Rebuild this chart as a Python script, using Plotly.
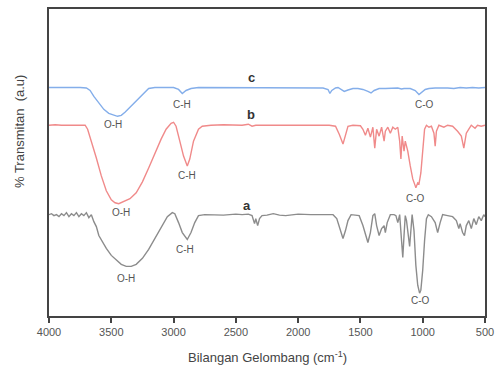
import plotly.graph_objects as go

def pv(py):
    # convert picture-read level to arbitrary transmittance units (0-100)
    return round((316 - py) * 100 / 309, 2)

# Spectrum c (wavenumber, level)
c_wn = [4000, 3900, 3850, 3800, 3750, 3700, 3670, 3640, 3600, 3560, 3520, 3480, 3450, 3420, 3390, 3350,
        3300, 3250, 3200, 3150, 3050, 3000, 2960, 2930, 2900, 2860, 2800, 2600, 2400, 2300, 2200, 2000,
        1800, 1760, 1745, 1730, 1700, 1680, 1660, 1630, 1600, 1560, 1520, 1480, 1440, 1415, 1390, 1350,
        1300, 1250, 1200, 1170, 1150, 1100, 1060, 1030, 1010, 980, 950, 900, 800, 750, 700, 650, 600, 550, 500]
c_lv = [86, 86, 85.5, 86, 86, 86.5, 89, 95, 102, 108, 112, 114, 115, 114, 111, 106,
        100, 93, 87, 86, 86, 86, 88, 92, 89, 87, 86, 86, 86, 86.5, 86, 86,
        86.5, 88, 92, 89, 86.5, 86, 88, 90, 88.5, 87, 87, 88, 90, 91.5, 89, 87,
        87, 87, 86.5, 87.5, 87, 87, 89, 93, 91, 88, 87, 86.5, 86.5, 87, 86, 86.5, 86, 86.5, 86]

# Spectrum b
b_wn = [4000, 3950, 3900, 3850, 3800, 3750, 3710, 3690, 3660, 3620, 3580, 3540, 3500, 3470, 3440, 3400,
        3350, 3300, 3250, 3200, 3150, 3100, 3060, 3020, 3000, 2980, 2950, 2920, 2890, 2870, 2840, 2800,
        2770, 2700, 2600, 2500, 2450, 2400, 2370, 2340, 2300, 2200, 2100, 2000, 1900, 1750, 1700, 1670,
        1640, 1620, 1600, 1560, 1500, 1480, 1460, 1440, 1420, 1400, 1385, 1370, 1350, 1330, 1310, 1300,
        1280, 1260, 1240, 1220, 1200, 1185, 1175, 1165, 1150, 1140, 1120, 1100, 1080, 1060, 1055, 1040,
        1030, 1015, 1000, 985, 970, 950, 930, 910, 900, 890, 870, 830, 800, 760, 720, 690, 670, 650,
        630, 610, 580, 560, 530, 500]
b_lv = [124, 123.5, 124, 124, 123.5, 124, 124, 128, 140, 157, 175, 190, 199, 202, 203, 201,
        198, 192, 181, 167, 152, 138, 128, 122, 121, 125, 140, 155, 165, 158, 140, 128,
        125, 124, 123.5, 123.5, 124, 123, 125, 124, 124, 124.5, 124, 124, 124, 124, 125, 133,
        143, 135, 125, 124, 124.5, 128, 134, 127, 136, 126, 147, 128, 135, 126, 140, 130,
        126, 132, 126, 128, 126, 140, 158, 135, 150, 140, 150, 165, 178, 185, 187, 182,
        183, 172, 150, 128, 124, 126, 125, 132, 145, 130, 124, 126, 124, 125, 130, 135, 147, 132,
        128, 124, 127, 124, 125, 124]

# Spectrum a
a_wn = [4000, 3980, 3960, 3940, 3920, 3900, 3880, 3860, 3840, 3820, 3800, 3780, 3760, 3740, 3720, 3700,
        3680, 3660, 3640, 3620, 3600, 3570, 3540, 3500, 3460, 3420, 3380, 3340, 3300, 3250, 3200, 3150,
        3100, 3050, 3010, 2990, 2960, 2930, 2890, 2860, 2830, 2800, 2750, 2700, 2600, 2500, 2450, 2400,
        2370, 2350, 2340, 2325, 2310, 2290, 2250, 2200, 2150, 2100, 2050, 2000, 1900, 1800, 1720, 1690,
        1660, 1640, 1620, 1600, 1575, 1550, 1510, 1480, 1450, 1440, 1420, 1400, 1385, 1370, 1350, 1330,
        1310, 1300, 1285, 1260, 1230, 1215, 1200, 1185, 1170, 1160, 1150, 1140, 1130, 1115, 1105, 1095,
        1085, 1070, 1055, 1040, 1025, 1015, 1000, 985, 970, 955, 930, 900, 880, 860, 840, 800,
        760, 730, 710, 700, 680, 665, 650, 630, 610, 590, 570, 550, 530, 510, 500]
a_lv = [214, 213, 215, 214, 216, 213, 215, 212, 216, 213, 215, 212, 216, 213, 215, 212,
        217, 214, 221, 226, 235, 242, 248, 255, 260, 264, 266, 266, 264, 258, 249, 238,
        226, 216, 212, 213, 222, 232, 239, 232, 222, 215, 214, 214, 214.5, 213.5, 214, 213.5,
        215, 223, 218, 225, 218, 215, 214.5, 213, 214.5, 215, 214, 213.5, 214, 214, 214, 218,
        230, 238, 230, 220, 214, 214.5, 215, 225, 238, 242, 232, 215, 213, 225, 235, 228,
        225, 232, 222, 214, 214, 215, 222, 214, 240, 257, 235, 215, 220, 240, 246, 230,
        214, 230, 265, 285, 293, 290, 270, 240, 218, 214, 216, 222, 232, 222, 214, 215,
        216, 220, 228, 223, 232, 235, 225, 220, 228, 218, 224, 216, 220, 214, 216]

series = [("a", a_wn, a_lv, "#8c8c8c"), ("b", b_wn, b_lv, "#f08a8a"), ("c", c_wn, c_lv, "#84aeea")]

# Annotations: (text, wavenumber, level, bold)
labels = [
    ("c", 2373, 76, True), ("b", 2381, 113, True), ("a", 2413, 205, True),
    ("O-H", 3490, 123, False), ("C-H", 2930, 103, False), ("C-O", 985, 103, False),
    ("O-H", 3420, 212, False), ("C-H", 2890, 175, False), ("C-O", 1055, 198, False),
    ("O-H", 3380, 278, False), ("C-H", 2910, 249, False), ("C-O", 1015, 300, False),
]

fig = go.Figure()
for name, wn, lv, col in series:
    fig.add_trace(go.Scatter(x=wn, y=[pv(v) for v in lv], mode="lines", name=name,
                             line=dict(color=col, width=1.4), showlegend=False))

for text, x, lvl, bold in labels:
    fig.add_annotation(x=x, y=pv(lvl), text=f"<b>{text}</b>" if bold else text, showarrow=False,
                       font=dict(family="Liberation Sans, Arial", size=13 if bold else 10,
                                 color="#333333" if bold else "#555555"))

fig.add_annotation(xref="paper", yref="paper", x=0.5, y=-0.133, yanchor="middle",
                   text="Bilangan Gelombang (cm<sup>-1</sup>)", showarrow=False,
                   font=dict(family="Liberation Sans, Arial", size=13, color="#444444"))
fig.add_annotation(xref="paper", yref="paper", x=-0.066, y=0.6, xanchor="center", yanchor="middle",
                   text="% Transmitan  (a.u)", textangle=-90, showarrow=False,
                   font=dict(family="Liberation Sans, Arial", size=13, color="#444444"))

fig.update_layout(
    width=501, height=369, margin=dict(l=49, r=13, t=7, b=53),
    plot_bgcolor="white", paper_bgcolor="white",
    xaxis=dict(range=[4000, 500], tickvals=[4000, 3500, 3000, 2500, 2000, 1500, 1000, 500],
               ticks="outside", ticklen=5, tickwidth=1.5, tickcolor="#444444",
               showgrid=False, zeroline=False, showline=True, linecolor="#444444", linewidth=2,
               mirror=True, tickfont=dict(family="Liberation Sans, Arial", size=11, color="#555555")),
    yaxis=dict(range=[0, 100], showticklabels=False, ticks="", showgrid=False, zeroline=False,
               showline=True, linecolor="#444444", linewidth=2, mirror=True),
)
fig.write_html("out.html")
